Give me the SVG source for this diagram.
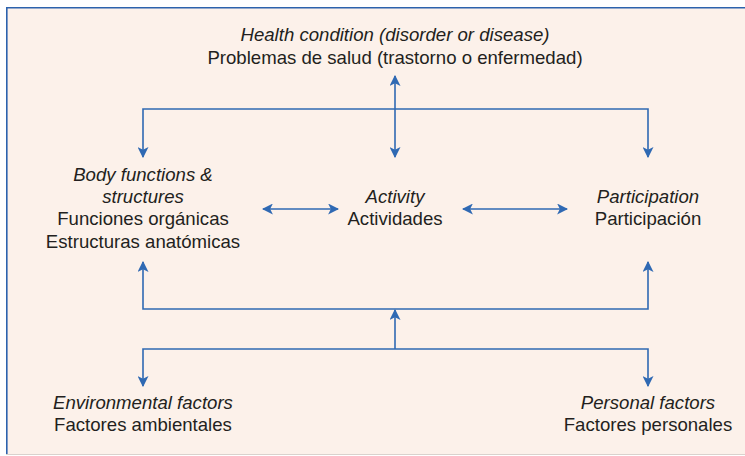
<svg xmlns="http://www.w3.org/2000/svg" width="745" height="456" viewBox="0 0 745 456">
<style>
  .t { font-family: "Liberation Sans", Arial, sans-serif; font-size: 18.6px; fill: #231f20; text-anchor: middle; }
  .i { font-style: italic; }
  .c { fill: none; stroke: #2f69b3; stroke-width: 1.6; }
</style>
<defs>
  <marker id="ah" viewBox="0 0 10 10" refX="9" refY="5" markerWidth="11" markerHeight="11" markerUnits="userSpaceOnUse" orient="auto-start-reverse">
    <path d="M0,0 L10,5 L0,10 L2.5,5 Z" fill="#2f69b3"/>
  </marker>
</defs>
<g id="frame">
  <rect x="6" y="7" width="739" height="447" fill="#fcf1ea"/>
  <path d="M6.8,454 V7.8 H745" fill="none" stroke="#2c62ad" stroke-width="1.6"/>
  <line x1="6" y1="454.5" x2="745" y2="454.5" stroke="#d9d2cd" stroke-width="1"/>
</g>
<g id="connectors">
  <line class="c" x1="395" y1="76" x2="395" y2="157" marker-start="url(#ah)" marker-end="url(#ah)"/>
  <path class="c" d="M143,157 V109 H648 V157" marker-start="url(#ah)" marker-end="url(#ah)"/>
  <line class="c" x1="263" y1="209" x2="338" y2="209" marker-start="url(#ah)" marker-end="url(#ah)"/>
  <line class="c" x1="463" y1="209" x2="567" y2="209" marker-start="url(#ah)" marker-end="url(#ah)"/>
  <path class="c" d="M143,262 V309 H648 V262" marker-start="url(#ah)" marker-end="url(#ah)"/>
  <line class="c" x1="395" y1="349" x2="395" y2="310" marker-end="url(#ah)"/>
  <path class="c" d="M143,386 V349 H648 V386" marker-start="url(#ah)" marker-end="url(#ah)"/>
</g>
<g id="health">
  <text class="t i" x="395" y="41">Health condition (disorder or disease)</text>
  <text class="t" x="395" y="64">Problemas de salud (trastorno o enfermedad)</text>
</g>
<g id="body">
  <text class="t i" x="143" y="181">Body functions &amp;</text>
  <text class="t i" x="143" y="203">structures</text>
  <text class="t" x="143" y="225">Funciones orgánicas</text>
  <text class="t" x="143" y="248">Estructuras anatómicas</text>
</g>
<g id="activity">
  <text class="t i" x="395" y="203">Activity</text>
  <text class="t" x="395" y="225">Actividades</text>
</g>
<g id="participation">
  <text class="t i" x="648" y="203">Participation</text>
  <text class="t" x="648" y="225">Participación</text>
</g>
<g id="environmental">
  <text class="t i" x="143" y="409">Environmental factors</text>
  <text class="t" x="143" y="431">Factores ambientales</text>
</g>
<g id="personal">
  <text class="t i" x="648" y="409">Personal factors</text>
  <text class="t" x="648" y="431">Factores personales</text>
</g>
</svg>
